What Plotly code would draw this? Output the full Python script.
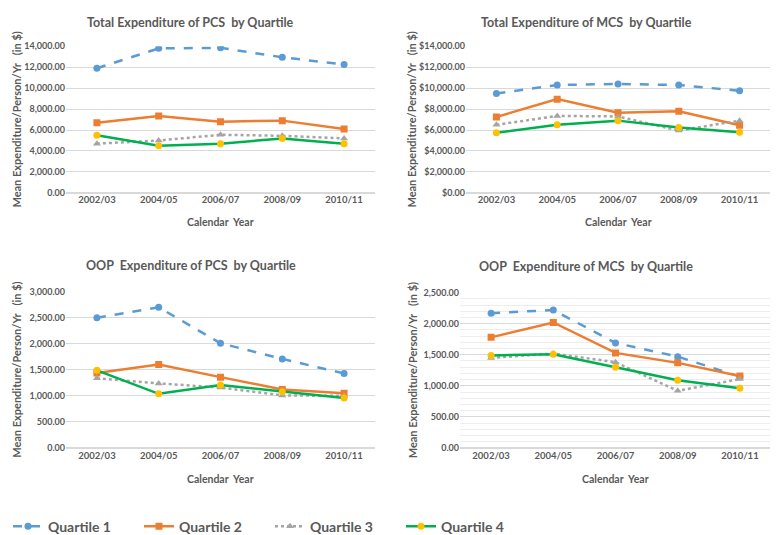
import plotly.graph_objects as go

years = ["2002/03", "2004/05", "2006/07", "2008/09", "2010/11"]
quartiles = ["Quartile 1", "Quartile 2", "Quartile 3", "Quartile 4"]

# Total expenditure of PCS
total_pcs_q1 = [11900, 13800, 13850, 12950, 12250]
total_pcs_q2 = [6700, 7350, 6800, 6900, 6100]
total_pcs_q3 = [4700, 5000, 5550, 5450, 5200]
total_pcs_q4 = [5500, 4500, 4700, 5200, 4700]

# Total expenditure of MCS
total_mcs_q1 = [9500, 10300, 10400, 10300, 9750]
total_mcs_q2 = [7250, 8950, 7650, 7800, 6450]
total_mcs_q3 = [6500, 7350, 7300, 5950, 6900]
total_mcs_q4 = [5750, 6500, 6900, 6250, 5800]

# OOP expenditure of PCS
oop_pcs_q1 = [2500, 2700, 2010, 1710, 1430]
oop_pcs_q2 = [1440, 1600, 1360, 1125, 1050]
oop_pcs_q3 = [1340, 1240, 1160, 1010, 1000]
oop_pcs_q4 = [1490, 1040, 1210, 1080, 960]

# OOP expenditure of MCS
oop_mcs_q1 = [2170, 2220, 1690, 1470, 1150]
oop_mcs_q2 = [1780, 2020, 1530, 1370, 1160]
oop_mcs_q3 = [1450, 1520, 1380, 920, 1110]
oop_mcs_q4 = [1490, 1510, 1300, 1090, 960]

panels = [
    ("Total Expenditure of PCS  by Quartile", [total_pcs_q1, total_pcs_q2, total_pcs_q3, total_pcs_q4], 14000, 2000, ""),
    ("Total Expenditure of MCS  by Quartile", [total_mcs_q1, total_mcs_q2, total_mcs_q3, total_mcs_q4], 14000, 2000, "$"),
    ("OOP  Expenditure of PCS  by Quartile", [oop_pcs_q1, oop_pcs_q2, oop_pcs_q3, oop_pcs_q4], 3000, 500, ""),
    ("OOP  Expenditure of MCS  by Quartile", [oop_mcs_q1, oop_mcs_q2, oop_mcs_q3, oop_mcs_q4], 2500, 500, ""),
]

W, H = 778, 535
# plot areas in pixels: (x0, x1, ytop, ybottom)
boxes = [(58, 367, 33, 183), (458, 762, 33, 183), (58, 367, 284, 444), (452, 763, 285, 444)]
title_pos = [(182, 9), (578, 9), (183, 257), (578, 258)]
xtitle_y = [213, 213, 476, 476]
ytitle_x = [9, 404, 9, 404]

styles = [
    dict(color="#5B9BD5", dash="dash", symbol="circle", mcolor="#5B9BD5"),
    dict(color="#ED7D31", dash="solid", symbol="square", mcolor="#ED7D31"),
    dict(color="#A5A5A5", dash="dot", symbol="triangle-up", mcolor="#A5A5A5"),
    dict(color="#00B050", dash="solid", symbol="circle", mcolor="#FFC000"),
]

grey = "#595959"
font = "Lato"

fig = go.Figure()
annotations = []

for i, (title, series, ymax, dtick, prefix) in enumerate(panels):
    n = "" if i == 0 else str(i + 1)
    x0, x1, yt, yb = boxes[i]
    for j, vals in enumerate(series):
        s = styles[j]
        fig.add_trace(go.Scatter(
            x=years, y=vals, mode="lines+markers", name=quartiles[j],
            line=dict(color=s["color"], dash=s["dash"], width=2.5),
            marker=dict(symbol=s["symbol"], color=s["mcolor"], size=7),
            xaxis="x" + n, yaxis="y" + n, showlegend=(i == 0),
        ))
    fig.layout["xaxis" + n] = dict(
        domain=[x0 / W, x1 / W], anchor="y" + n, type="category",
        range=[-0.5, 4.5], showgrid=False, showline=False, ticks="",
        tickfont=dict(size=9.5, color=grey, family=font, weight="bold"),
    )
    yax = dict(
        domain=[1 - yb / H, 1 - yt / H], anchor="x" + n, range=[0, ymax],
        dtick=dtick, tickformat=",.2f", tickprefix=prefix,
        showgrid=True, gridcolor="#D9D9D9", gridwidth=1, zeroline=True,
        zerolinecolor="#D9D9D9", showline=False,
        tickfont=dict(size=9, color=grey, family=font, weight="bold"),
    )
    if i == 3:
        yax["minor"] = dict(dtick=100, showgrid=True, gridcolor="#EDEDED", gridwidth=1)
    fig.layout["yaxis" + n] = yax

    tx, ty = title_pos[i]
    annotations.append(dict(text=title, x=tx / W, y=1 - ty / H, xref="paper", yref="paper",
                            showarrow=False, xanchor="center", yanchor="middle",
                            font=dict(size=12.5, color=grey, family=font, weight="bold")))
    annotations.append(dict(text="Calendar  Year", x=(x0 + x1) / 2 / W, y=1 - xtitle_y[i] / H,
                            xref="paper", yref="paper", showarrow=False,
                            xanchor="center", yanchor="middle",
                            font=dict(size=10.5, color=grey, family=font, weight="bold")))
    annotations.append(dict(text="Mean Expenditure/Person/Yr   (in $)", x=ytitle_x[i] / W,
                            y=1 - (yt + yb) / 2 / H, xref="paper", yref="paper",
                            showarrow=False, textangle=-90, xanchor="center", yanchor="middle",
                            font=dict(size=11, color=grey, family=font, weight="bold")))

fig.update_layout(
    width=W, height=H,
    margin=dict(l=0, r=0, t=0, b=0),
    paper_bgcolor="white", plot_bgcolor="white",
    annotations=annotations,
    shapes=[dict(type="line", xref="paper", yref="paper", x0=775 / W, x1=775 / W,
                 y0=1 - 490 / H, y1=1 - 240 / H, line=dict(color="#BFBFBF", width=1))],
    legend=dict(orientation="h", x=0, y=1 - 508 / H, xanchor="left", yanchor="top",
                entrywidth=86, entrywidthmode="pixels",
                font=dict(size=14, color=grey, family=font, weight="bold")),
)

fig.write_html("out.html")
